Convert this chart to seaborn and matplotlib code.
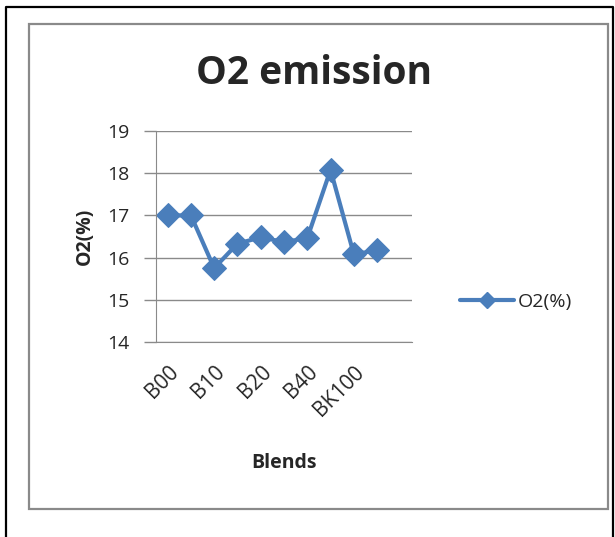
import matplotlib
matplotlib.use("Agg")
import matplotlib.pyplot as plt
import matplotlib.transforms as mtrans
import seaborn as sns
import pandas as pd
from matplotlib.patches import Rectangle
from matplotlib.lines import Line2D

blends = ["B00", "B05", "B10", "B15", "B20", "B30", "B40", "B50", "BK100", "BC100"]
o2 = [17.0, 17.0, 15.75, 16.33, 16.48, 16.37, 16.46, 18.08, 16.08, 16.17]
shown_labels = ["B00", "", "B10", "", "B20", "", "B40", "", "BK100", ""]

sns.set_style("white")
plt.rcParams['font.family'] = ['Open Sans', 'DejaVu Sans']

W, H = 615, 537
fig = plt.figure(figsize=(W / 100, H / 100), dpi=100)

# outer black frame (no bottom edge visible)
fig.add_artist(Line2D([5.5 / W, 5.5 / W, 612.5 / W, 612.5 / W], [0, 1 - 7 / H, 1 - 7 / H, 0],
                      transform=fig.transFigure, color="black", linewidth=1.6))
# inner grey frame
fig.patches.append(Rectangle((29 / W, 1 - 509 / H), (608 - 29) / W, (509 - 24) / H,
                             transform=fig.transFigure, fill=False, edgecolor="#8a8a8a", linewidth=1.6))

ax = fig.add_axes([156 / W, 1 - 342 / H, (412 - 156) / W, (342 - 131) / H])
df = pd.DataFrame({"Blends": blends, "O2(%)": o2})
color = "#4A7EBB"
sns.lineplot(data=df, x="Blends", y="O2(%)", ax=ax, color=color, linewidth=3,
             marker="D", markersize=12, markeredgecolor=color, sort=False)

ax.set_ylim(14, 19)
ax.set_yticks([14, 15, 16, 17, 18, 19])
ax.set_xlim(-0.5, len(blends) + 0.5)
ax.set_xticks(range(len(blends)))
ax.set_xticklabels(shown_labels, rotation=45, ha="right", rotation_mode="anchor", fontsize=15)
offset = mtrans.ScaledTranslation(-6 / 100, -2 / 100, fig.dpi_scale_trans)
for lab in ax.get_xticklabels():
    lab.set_transform(lab.get_transform() + offset)
ax.tick_params(axis="y", labelsize=14, length=9, width=1, color="#8a8a8a", left=True, pad=10)
ax.tick_params(axis="x", length=0, pad=14)
ax.grid(axis="y", color="#8a8a8a", linewidth=1)
ax.set_axisbelow(True)
for s in ["top", "right"]:
    ax.spines[s].set_visible(False)
ax.spines["left"].set_color("#8a8a8a")
ax.spines["bottom"].set_color("#8a8a8a")
ax.set_xlabel("Blends", fontsize=14, fontweight="bold", labelpad=24)
ax.set_ylabel("O2(%)", fontsize=14, fontweight="bold", labelpad=9)

fig.text(314 / W, 1 - 73 / H, "O2 emission", fontsize=28, fontweight="bold",
         ha="center", va="center")

handle = Line2D([], [], color=color, linewidth=3, marker="D", markersize=8)
fig.legend(handles=[handle], labels=["O2(%)"], loc="center left",
           bbox_to_anchor=(442 / W, 1 - 302 / H), frameon=False, fontsize=14,
           handlelength=2.8, handletextpad=0.2)

fig.savefig("out.png", dpi=100)
